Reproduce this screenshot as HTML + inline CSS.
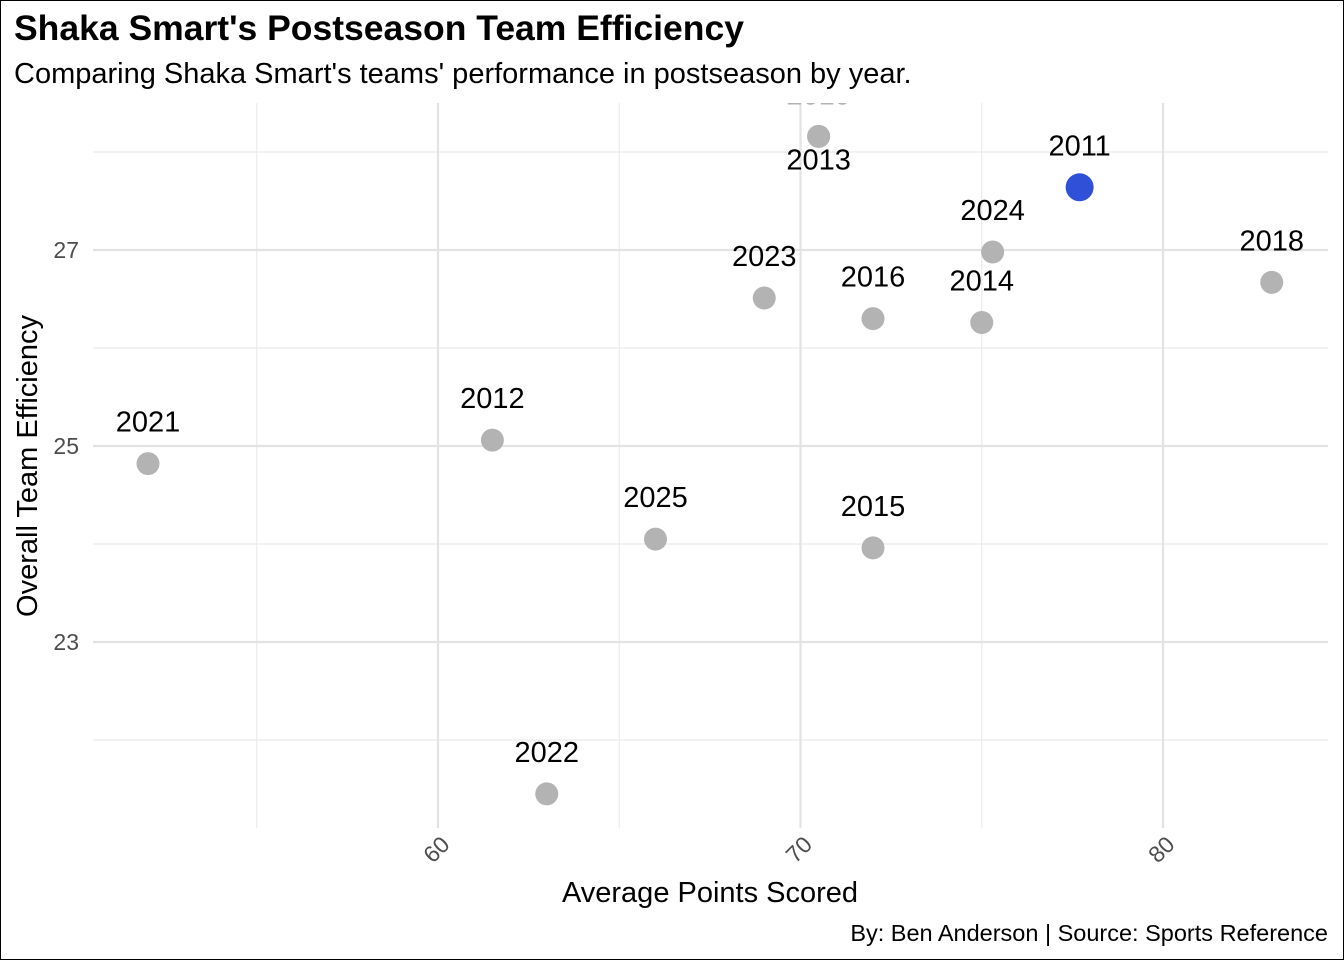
<!DOCTYPE html>
<html><head><meta charset="utf-8"><style>
body{margin:0;background:#fff;}
svg{display:block;font-family:"Liberation Sans",Arial,sans-serif;}
</style></head><body>
<svg width="1344" height="960" viewBox="0 0 1344 960">
<rect x="0.5" y="0.5" width="1343" height="959" fill="#fff" stroke="#000"/>
<text x="14" y="40" font-size="35.5" font-weight="bold" fill="#000">Shaka Smart's Postseason Team Efficiency</text>
<text x="14" y="83" font-size="29" fill="#000">Comparing Shaka Smart's teams' performance in postseason by year.</text>
<defs><clipPath id="pc"><rect x="93" y="103" width="1235" height="725"/></clipPath></defs>
<g id="grid"></g>
<g id="marks" clip-path="url(#pc)"></g>
<g id="axes"></g>
<text x="710" y="902" text-anchor="middle" font-size="29" fill="#000">Average Points Scored</text>
<text transform="translate(37,466) rotate(-90)" text-anchor="middle" font-size="29" fill="#000">Overall Team Efficiency</text>
<text x="1328" y="941" text-anchor="end" font-size="23.5" fill="#000">By: Ben Anderson | Source: Sports Reference</text>
</svg>
<script>
const years=["2021","2012","2022","2025","2023","2013","2019","2016","2015","2014","2024","2011","2018"];
const points=[52.0,61.5,63.0,66.0,69.0,70.5,70.5,72.0,72.0,75.0,75.3,77.7,83.0];
const efficiency=[24.82,25.06,21.45,24.05,26.51,28.16,28.16,26.30,23.96,26.26,26.98,27.64,26.67];
const labelPos=["above","above","above","above","above","below","above2","above","above","above","above","above","above"];
const xMajor=[60,70,80], xMinor=[55,65,75];
const yMajor=[23,25,27], yMinor=[22,24,26,28];
const highlight="2011";
const X=v=>438+(v-60)*36.25, Y=v=>446-(v-25)*98;
const NS="http://www.w3.org/2000/svg";
function mk(p,t,a){const e=document.createElementNS(NS,t);for(const k in a)e.setAttribute(k,a[k]);p.appendChild(e);return e;}
const g=document.getElementById('grid'),m=document.getElementById('marks'),ax=document.getElementById('axes');
xMinor.forEach(v=>{const l=mk(g,'line',{x1:X(v),x2:X(v),y1:103,y2:828,stroke:'#ebebeb','stroke-width':1.2});

});
yMinor.forEach(v=>{const l=mk(g,'line',{x1:93,x2:1328,y1:Y(v),y2:Y(v),stroke:'#ebebeb','stroke-width':1.2});

});
xMajor.forEach(v=>{const l=mk(g,'line',{x1:X(v),x2:X(v),y1:103,y2:828,stroke:'#e3e3e3','stroke-width':2.2});


const t=mk(ax,'text',{x:0,y:0,'font-size':23,fill:'#4d4d4d','text-anchor':'end',transform:`translate(${X(v)+13},${846}) rotate(-45)`});
t.textContent=v;

});
yMajor.forEach(v=>{const l=mk(g,'line',{x1:93,x2:1328,y1:Y(v),y2:Y(v),stroke:'#e3e3e3','stroke-width':2.2});


const t=mk(ax,'text',{x:79,y:Y(v)+8,'font-size':23,fill:'#4d4d4d','text-anchor':'end'});
t.textContent=v;

});
years.forEach((yr,i)=>{const cx=X(points[i]),cy=Y(efficiency[i]);const hl=yr===highlight;
const c=mk(m,'circle',{cx:cx,cy:cy,r:hl?14:11.5,fill:hl?'#3050d8':'#b3b3b3'});


const pos=labelPos[i];const ty=pos==='below'?cy+33:cy-32;
const t=mk(m,'text',{x:cx,y:ty,'font-size':29,'text-anchor':'middle',fill:pos==='above2'?'#b3b3b3':'#000'});
t.textContent=yr;

});
</script>
</body></html>
